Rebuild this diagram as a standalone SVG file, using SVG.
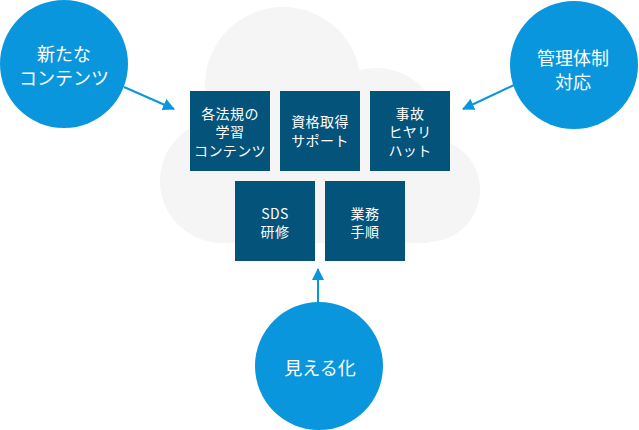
<svg xmlns="http://www.w3.org/2000/svg" width="639" height="430" viewBox="0 0 639 430">
<defs>
<style>
.cloud{fill:#f5f5f5}
.box{fill:#03537b}
.circ{fill:#0a96dc}
.bt{fill:#ffffff;font-family:"Noto Sans CJK JP","Noto Sans",sans-serif;font-size:14px;text-anchor:middle;letter-spacing:0.4px}
.ct{fill:#ffffff;font-family:"Noto Sans CJK JP","Noto Sans",sans-serif;font-size:18px;text-anchor:middle}
.conn{stroke:#0a96dc;stroke-width:2;fill:none}
</style>
<marker id="ah" viewBox="0 0 12 12" refX="11" refY="6" markerWidth="12" markerHeight="12" markerUnits="userSpaceOnUse" orient="auto">
<path d="M0,0 L12,6 L0,12 Z" fill="#0a96dc"/>
</marker>
</defs>
<g id="cloud" class="cloud">
<circle cx="283" cy="85" r="78"/>
<circle cx="377" cy="130" r="62"/>
<circle cx="222" cy="181" r="62"/>
<circle cx="428" cy="190" r="52"/>
<rect x="222" y="140" width="206" height="103"/>
</g>
<g id="connectors">
<line class="conn" x1="124" y1="87" x2="174" y2="109" marker-end="url(#ah)"/>
<line class="conn" x1="514" y1="85" x2="463" y2="109" marker-end="url(#ah)"/>
<line class="conn" x1="318" y1="303" x2="318" y2="269" marker-end="url(#ah)"/>
</g>
<g id="box-hoki">
<rect class="box" x="190" y="91" width="80" height="80"/>
<text class="bt" x="230" y="118.5">各法規の</text>
<text class="bt" x="230" y="137">学習</text>
<text class="bt" x="230" y="155.5">コンテンツ</text>
</g>
<g id="box-shikaku">
<rect class="box" x="280" y="91" width="80" height="80"/>
<text class="bt" x="320" y="127">資格取得</text>
<text class="bt" x="320" y="145.5">サポート</text>
</g>
<g id="box-jiko">
<rect class="box" x="370" y="91" width="80" height="80"/>
<text class="bt" x="410" y="118.5">事故</text>
<text class="bt" x="410" y="137">ヒヤリ</text>
<text class="bt" x="410" y="155.5">ハット</text>
</g>
<g id="box-sds">
<rect class="box" x="235" y="181" width="80" height="80"/>
<text class="bt" x="275" y="218.5">SDS</text>
<text class="bt" x="275" y="237">研修</text>
</g>
<g id="box-gyomu">
<rect class="box" x="325" y="181" width="80" height="80"/>
<text class="bt" x="365" y="218.5">業務</text>
<text class="bt" x="365" y="237">手順</text>
</g>
<g id="circle-new">
<circle class="circ" cx="64" cy="64" r="64"/>
<text class="ct" x="64" y="61">新たな</text>
<text class="ct" x="64" y="84.5">コンテンツ</text>
</g>
<g id="circle-kanri">
<circle class="circ" cx="574" cy="65" r="64"/>
<text class="ct" x="573" y="65">管理体制</text>
<text class="ct" x="573" y="88.5">対応</text>
</g>
<g id="circle-mieru">
<circle class="circ" cx="319" cy="366" r="64"/>
<text class="ct" x="320" y="375">見える化</text>
</g>
</svg>
